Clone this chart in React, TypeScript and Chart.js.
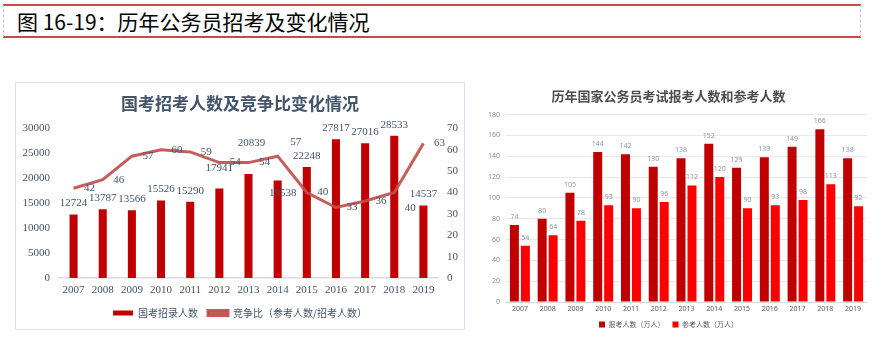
import React, { useEffect, useRef } from "react";
import { Chart, registerables } from "chart.js";

Chart.register(...registerables);

const years = ["2007", "2008", "2009", "2010", "2011", "2012", "2013", "2014", "2015", "2016", "2017", "2018", "2019"];
const recruits = [12724, 13787, 13566, 15526, 15290, 17941, 20839, 19538, 22248, 27817, 27016, 28533, 14537];
const ratio = [42, 46, 57, 60, 59, 54, 54, 57, 40, 33, 36, 40, 63];
const applicants = [74, 80, 105, 144, 142, 130, 138, 152, 129, 139, 149, 166, 138];
const examinees = [54, 64, 78, 93, 90, 96, 112, 120, 90, 93, 98, 113, 92];

const SERIF = "'Liberation Serif', 'Noto Sans CJK SC', serif";
const CJK = "'Noto Sans CJK SC', sans-serif";
const SANS = "'Noto Sans', 'Noto Sans CJK SC', sans-serif";

const valueLabels = {
  id: "valueLabels",
  afterDatasetsDraw(chart: any) {
    const ctx = chart.ctx;
    chart.data.datasets.forEach((ds: any, di: number) => {
      const cfg = ds.valueLabel;
      if (!cfg) return;
      const meta = chart.getDatasetMeta(di);
      if (meta.hidden) return;
      ctx.save();
      ctx.font = cfg.font;
      ctx.fillStyle = cfg.color;
      ctx.textAlign = "center";
      ctx.textBaseline = "middle";
      meta.data.forEach((el: any, i: number) => {
        const lab = chart.data.labels[i];
        const sh = (cfg.shift && cfg.shift[lab]) || { dx: 0, dy: 0 };
        let x = el.x + (sh.dx || 0);
        let y = el.y + (sh.dy || 0);
        if (cfg.pos === "right") {
          x += cfg.dx;
        } else {
          y -= cfg.dy;
        }
        ctx.fillText(String(ds.data[i]), x, y);
      });
      ctx.restore();
    });
  },
};

function LeftChart() {
  const ref = useRef<HTMLCanvasElement>(null);
  useEffect(() => {
    const c = new Chart(ref.current!, {
      type: "bar",
      data: {
        labels: years,
        datasets: [
          {
            type: "bar",
            label: "国考招录人数",
            data: recruits,
            backgroundColor: "#C00000",
            borderWidth: 0,
            yAxisID: "y",
            barPercentage: 0.92,
            categoryPercentage: 0.3,
            order: 2,
            valueLabel: {
              pos: "top",
              dy: 11,
              font: `11px ${SERIF}`,
              color: "#44546A",
              shift: {
                "2012": { dx: 0, dy: -9 },
                "2013": { dx: 3, dy: -20 },
                "2014": { dx: 5, dy: 24 },
              },
            },
          } as any,
          {
            type: "line",
            label: "竞争比（参考人数/招考人数）",
            data: ratio,
            borderColor: "rgba(192,80,77,0.92)",
            backgroundColor: "rgba(192,80,77,0.92)",
            borderWidth: 3,
            pointRadius: 0,
            tension: 0,
            yAxisID: "y1",
            order: 1,
            valueLabel: {
              pos: "right",
              dx: 16,
              font: `11px ${SERIF}`,
              color: "#44546A",
              shift: {
                "2014": { dx: 2, dy: -14 },
                "2018": { dx: 0, dy: 16 },
              },
            },
          } as any,
        ],
      },
      options: {
        animation: false,
        responsive: false,
        maintainAspectRatio: false,
        layout: { padding: { left: 0, right: 0, top: 0, bottom: 1 } },
        plugins: {
          title: {
            display: true,
            text: "国考招考人数及竞争比变化情况",
            color: "#44546A",
            font: { family: CJK, size: 17, weight: "bold" },
            padding: { top: 10, bottom: 15 },
          },
          legend: {
            display: true,
            position: "bottom",
            labels: {
              boxWidth: 20,
              boxHeight: 5,
              color: "#44546A",
              font: { family: CJK, size: 10 },
              padding: 10,
              sort: (a: any, b: any) => a.datasetIndex - b.datasetIndex,
            },
          },
          tooltip: { enabled: false },
        },
        scales: {
          x: {
            grid: { display: false, drawTicks: false },
            border: { display: true, color: "#D6DCE5", width: 1.5 },
            ticks: { color: "#44546A", font: { family: SERIF, size: 11 }, padding: 6 },
            afterFit: (s: any) => {
              s.height = 20;
            },
          },
          y: {
            position: "left",
            min: 0,
            max: 30000,
            ticks: {
              stepSize: 5000,
              color: "#44546A",
              font: { family: SERIF, size: 11 },
              padding: 9,
              callback: (v: any) => String(v),
            },
            grid: { display: false, drawTicks: false },
            border: { display: false },
            afterFit: (s: any) => {
              s.width = 43;
            },
          },
          y1: {
            position: "right",
            min: 0,
            max: 70,
            ticks: {
              stepSize: 10,
              color: "#44546A",
              font: { family: SERIF, size: 11 },
              padding: 9,
              callback: (v: any) => String(v),
            },
            grid: { display: false, drawTicks: false },
            border: { display: false },
            afterFit: (s: any) => {
              s.width = 26;
            },
          },
        },
      } as any,
      plugins: [valueLabels],
    });
    return () => c.destroy();
  }, []);
  return <canvas ref={ref} width={448} height={246} style={{ display: "block", width: 448, height: 246 }} />;
}

function RightChart() {
  const ref = useRef<HTMLCanvasElement>(null);
  useEffect(() => {
    const lbl = { pos: "top", dy: 8, font: `7px ${SANS}`, color: "#8A97AB" };
    const c = new Chart(ref.current!, {
      type: "bar",
      data: {
        labels: years,
        datasets: [
          {
            label: "报考人数（万人）",
            data: applicants,
            backgroundColor: "#C00000",
            borderWidth: 0,
            barPercentage: 0.82,
            categoryPercentage: 0.79,
            valueLabel: lbl,
          } as any,
          {
            label: "参考人数（万人）",
            data: examinees,
            backgroundColor: "#FF0000",
            borderWidth: 0,
            barPercentage: 0.82,
            categoryPercentage: 0.79,
            valueLabel: lbl,
          } as any,
        ],
      },
      options: {
        animation: false,
        responsive: false,
        maintainAspectRatio: false,
        layout: { padding: { left: 0, right: 3, top: 0, bottom: 0 } },
        plugins: {
          title: {
            display: true,
            text: "历年国家公务员考试报考人数和参考人数",
            color: "#4D4D4D",
            font: { family: CJK, size: 13, weight: "bold" },
            padding: { top: 8, bottom: 11 },
          },
          legend: {
            display: true,
            position: "bottom",
            labels: {
              boxWidth: 6,
              boxHeight: 6,
              color: "#595959",
              font: { family: CJK, size: 7 },
              padding: 8,
            },
          },
          tooltip: { enabled: false },
        },
        scales: {
          x: {
            grid: { display: false, drawTicks: false },
            border: { display: true, color: "#D9D9D9", width: 1 },
            ticks: { color: "#595959", font: { family: SANS, size: 7 }, padding: 3 },
            afterFit: (s: any) => {
              s.height = 11;
            },
          },
          y: {
            min: 0,
            max: 180,
            ticks: { stepSize: 20, color: "#8C8C8C", font: { family: SANS, size: 7 }, padding: 6 },
            grid: { color: "#E8E8E8", drawTicks: false },
            border: { display: false },
            afterFit: (s: any) => {
              s.width = 36;
            },
          },
        },
      } as any,
      plugins: [valueLabels],
    });
    return () => c.destroy();
  }, []);
  return <canvas ref={ref} width={400} height={258} style={{ display: "block", width: 400, height: 258 }} />;
}

export default function App() {
  useEffect(() => {
    document.body.style.margin = "0";
    document.body.style.background = "#ffffff";
  }, []);
  return (
    <div style={{ position: "relative", width: 875, height: 338, background: "#fff", overflow: "hidden" }}>
      <div
        style={{
          position: "absolute",
          left: 3,
          top: 4,
          width: 856,
          height: 30,
          borderTop: "2px solid #C9484B",
          borderBottom: "2px solid #C9484B",
          borderLeft: "1px dashed #BFBFBF",
          borderRight: "1px dashed #BFBFBF",
          boxSizing: "content-box",
        }}
      >
        <div
          style={{
            position: "absolute",
            left: 13,
            top: 0,
            height: 30,
            lineHeight: "30px",
            fontFamily: CJK,
            fontSize: 21,
            color: "#000",
            whiteSpace: "nowrap",
          }}
        >
          图 16-19：历年公务员招考及变化情况
        </div>
      </div>
      <div
        style={{
          position: "absolute",
          left: 15,
          top: 82,
          width: 448,
          height: 246,
          border: "1px solid #DAE3F3",
        }}
      >
        <LeftChart />
      </div>
      <div style={{ position: "absolute", left: 470, top: 80, width: 400, height: 258 }}>
        <RightChart />
      </div>
    </div>
  );
}
